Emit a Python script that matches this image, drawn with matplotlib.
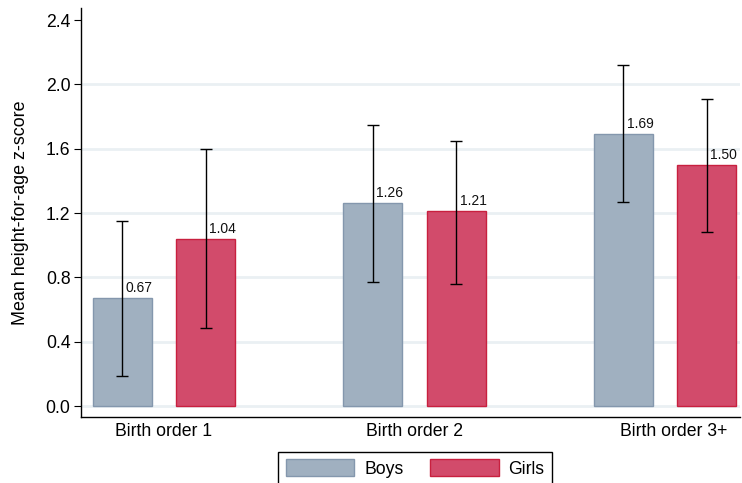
import matplotlib
matplotlib.use("Agg")
import matplotlib.pyplot as plt
import matplotlib.transforms as mtransforms
import numpy as np
from matplotlib.patches import Patch

plt.rcParams["font.family"] = ["Liberation Sans", "DejaVu Sans"]

# Data
categories = ["Birth order 1", "Birth order 2", "Birth order 3+"]
boys_mean = [0.67, 1.26, 1.69]
girls_mean = [1.04, 1.21, 1.50]
boys_lower = [0.19, 0.77, 1.27]
boys_upper = [1.15, 1.75, 2.12]
girls_lower = [0.485, 0.76, 1.08]
girls_upper = [1.60, 1.65, 1.91]
y_ticks = [0.0, 0.4, 0.8, 1.2, 1.6, 2.0, 2.4]

boys_face, boys_edge = "#A0B0C0", "#8497AD"
girls_face, girls_edge = "#D24B6B", "#C8203F"

fig = plt.figure(figsize=(7.42, 4.83), dpi=100)
ax = fig.add_axes([81 / 742, 66 / 483, 659 / 742, 409 / 483])

x = np.arange(len(categories))
offset = 0.1667
width = 0.236

ax.set_axisbelow(True)
for t in y_ticks[:-1]:
    ax.axhline(t, color="#EAF0F3", lw=2.0, zorder=0)

for means, lo, hi, pos, fc, ec in [
    (boys_mean, boys_lower, boys_upper, x - offset, boys_face, boys_edge),
    (girls_mean, girls_lower, girls_upper, x + offset, girls_face, girls_edge),
]:
    means = np.array(means)
    ax.bar(pos, means, width=width, color=fc, edgecolor=ec, linewidth=1.0, zorder=2)
    yerr = np.vstack([means - np.array(lo), np.array(hi) - means])
    ax.errorbar(pos, means, yerr=yerr, fmt="none", ecolor="black",
                elinewidth=1.0, capsize=4, capthick=1.0, zorder=3)
    for xp, m in zip(pos, means):
        ax.annotate(f"{m:.2f}", (xp, m), xytext=(2.6, 4.3), textcoords="offset points",
                    ha="left", va="baseline", fontsize=10, color="#111111", zorder=4)

ax.set_xlim(-0.331, 2.299)
ax.set_ylim(-0.068, 2.475)
ax.set_yticks(y_ticks)
ax.set_yticklabels([f"{t:.1f}" for t in y_ticks])
ax.set_xticks(x)
ax.set_xticklabels(categories)
ax.tick_params(axis="y", direction="out", length=5, width=0.8, pad=2.5, labelsize=12.7)
ax.tick_params(axis="x", length=0, pad=4, labelsize=12.7)

# the last category label sits a little to the right of its group
last = ax.get_xticklabels()[-1]
last.set_transform(last.get_transform() +
                   mtransforms.ScaledTranslation(8.5 / 100, 0, fig.dpi_scale_trans))

for s in ["top", "right"]:
    ax.spines[s].set_visible(False)
for s in ["left", "bottom"]:
    ax.spines[s].set_linewidth(1.0)
ax.set_ylabel("Mean height-for-age z-score", fontsize=12.9, labelpad=12)

handles = [Patch(facecolor=boys_face, edgecolor=boys_edge, label="Boys"),
           Patch(facecolor=girls_face, edgecolor=girls_edge, label="Girls")]
leg = fig.legend(handles=handles, loc="upper center", ncol=2,
                 bbox_to_anchor=(415 / 742, 1 - 451.5 / 483), fontsize=12.7,
                 frameon=True, fancybox=False, edgecolor="black", framealpha=1,
                 handlelength=3.9, handleheight=1.05, handletextpad=0.55,
                 columnspacing=1.5, borderpad=0.45, borderaxespad=0)
leg.get_frame().set_linewidth(1.0)

fig.savefig("out.png", dpi=100)
